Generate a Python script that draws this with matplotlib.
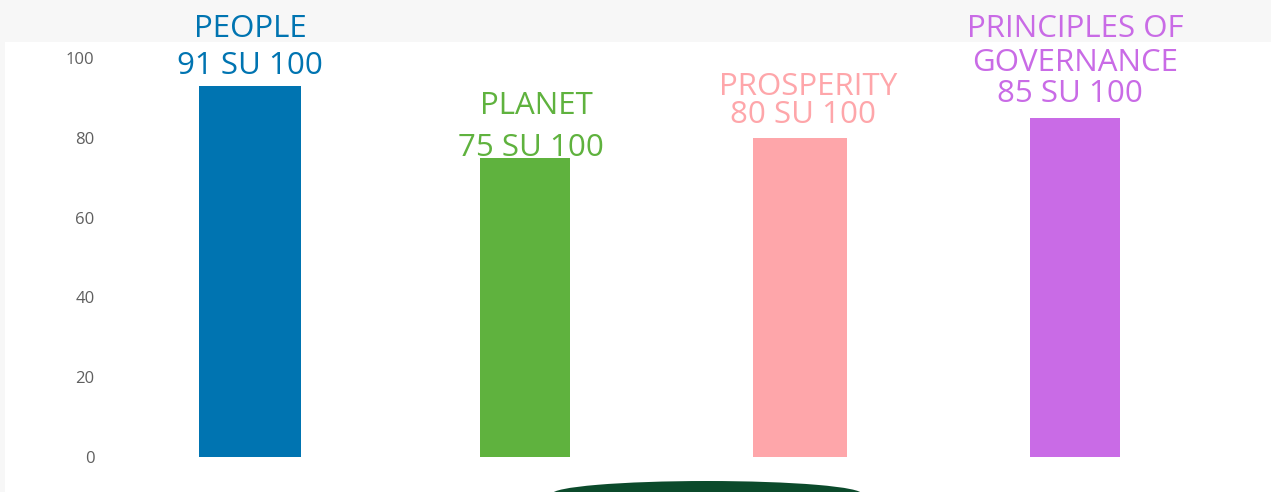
import matplotlib
matplotlib.use("Agg")
import matplotlib.pyplot as plt
from matplotlib.patches import Rectangle, Ellipse

# Data
pillars = ["PEOPLE", "PLANET", "PROSPERITY", "PRINCIPLES OF\nGOVERNANCE"]
bar_values = [93, 75, 80, 85]
scores = [91, 75, 80, 85]
max_score = 100
colors = ["#0074b1", "#5fb23e", "#fea6aa", "#c96be6"]
yticks = [0, 20, 40, 60, 80, 100]

# label layout (data y of baselines for name and score)
name_y = [105.3, 86.0, 90.7, 96.8]
score_y = [96.0, 75.4, 83.7, 89.0]
name_dx = [0.0, 0.04, 0.03, 0.0]
score_dx = [0.0, 0.02, 0.01, -0.02]
bar_w = [0.37, 0.33, 0.34, 0.33]

W, H = 1271, 492
fig = plt.figure(figsize=(W / 100, H / 100), dpi=100)
fig.patch.set_facecolor("white")

# light grey band at top and thin strip at the left
fig.patches.append(Rectangle((0, 1 - 42 / H), 1, 42 / H, transform=fig.transFigure,
                             facecolor="#f7f7f7", edgecolor="none", zorder=0))
fig.patches.append(Rectangle((0, 0), 5 / W, 1, transform=fig.transFigure,
                             facecolor="#f7f7f7", edgecolor="none", zorder=0))
# dark green arc at the bottom
fig.patches.append(Ellipse((707 / W, 1 - 494 / H), 310 / W, 26 / H,
                           transform=fig.transFigure, facecolor="#0b4a2b",
                           edgecolor="none", zorder=0))

left, right = 100, 1271
y0, y100 = 457, 58
ax = fig.add_axes([left / W, 1 - y0 / H, (right - left) / W, (y0 - y100) / H])
ax.set_facecolor("none")
ax.set_zorder(2)

x = list(range(len(pillars)))
ax.bar(x, bar_values, width=bar_w, color=colors, zorder=2)

ax.set_ylim(0, 100)
x_start = -150 / 275
ax.set_xlim(x_start, x_start + (right - left) / 275)
ax.set_yticks(yticks)
ax.set_yticklabels([str(t) for t in yticks], color="#5f5f5f", fontsize=12,
                   family="Open Sans")
ax.tick_params(axis="y", length=0, pad=4)
ax.set_xticks([])
for s in ax.spines.values():
    s.set_visible(False)

for i, (name, sc, col) in enumerate(zip(pillars, scores, colors)):
    ax.text(i + name_dx[i], name_y[i], name, ha="center", va="baseline",
            color=col, fontsize=22.5, family="Open Sans", linespacing=1.15,
            clip_on=False)
    ax.text(i + score_dx[i], score_y[i], f"{sc} SU {max_score}", ha="center",
            va="baseline", color=col, fontsize=22.5, family="Open Sans",
            clip_on=False)

fig.savefig("out.png", dpi=100)
